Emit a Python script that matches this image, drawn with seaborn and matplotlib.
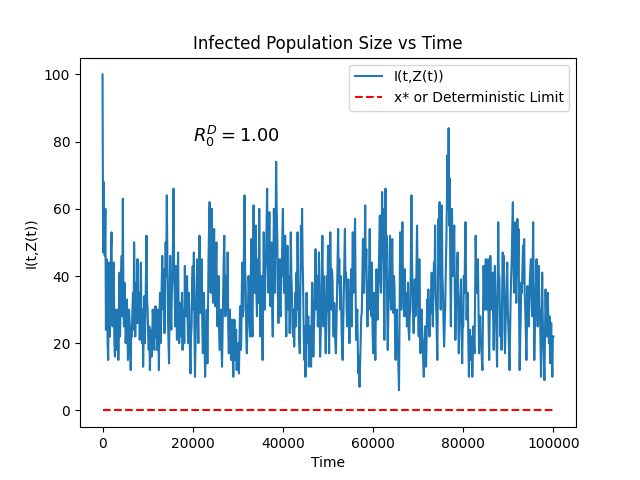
import numpy as np
import pandas as pd
import matplotlib
matplotlib.use("Agg")
import matplotlib.pyplot as plt
import seaborn as sns

# Infected population values, sampled every 125 time units (read / estimated from the chart)
infected_values = [
    100, 47, 68, 55, 46, 60, 24, 45, 38, 20, 15, 35, 44, 22, 30, 48, 53, 30, 25, 40,
    44, 20, 16, 28, 30, 18, 22, 30, 15, 25, 41, 22, 30, 40, 46, 28, 63, 35, 25, 38,
    30, 20, 24, 33, 28, 15, 18, 30, 27, 19, 12, 25, 22, 30, 35, 24, 50, 35, 22, 30,
    38, 26, 45, 30, 26, 35, 21, 32, 44, 28, 20, 30, 13, 22, 34, 20, 28, 40, 52, 33,
    30, 22, 18, 25, 12, 20, 24, 16, 20, 30, 27, 20, 18, 28, 31, 22, 25, 18, 30, 22,
    12, 28, 35, 20, 26, 38, 46, 33, 30, 42, 23, 38, 50, 40, 64, 45, 28, 20, 14, 35,
    46, 30, 24, 35, 40, 50, 66, 42, 35, 25, 43, 30, 21, 36, 47, 28, 20, 28, 32, 22,
    27, 35, 18, 25, 30, 20, 43, 32, 28, 38, 40, 26, 20, 35, 30, 18, 11, 22, 25, 38,
    43, 30, 47, 25, 10, 20, 30, 38, 45, 28, 20, 40, 52, 35, 29, 40, 45, 25, 17, 28,
    35, 20, 10, 18, 22, 30, 14, 28, 45, 55, 62, 40, 35, 48, 60, 38, 32, 45, 54, 35,
    31, 42, 50, 33, 25, 35, 40, 22, 18, 26, 30, 20, 13, 25, 35, 45, 52, 36, 28, 38,
    40, 30, 47, 25, 17, 24, 30, 20, 15, 22, 27, 16, 10, 20, 27, 15, 18, 24, 12, 20,
    20, 14, 11, 22, 31, 18, 20, 35, 44, 28, 30, 50, 64, 42, 37, 22, 17, 25, 30, 40,
    36, 25, 22, 40, 51, 30, 22, 45, 61, 40, 35, 50, 55, 35, 28, 40, 45, 32, 60, 38,
    22, 30, 40, 25, 15, 35, 53, 38, 30, 42, 45, 55, 66, 45, 35, 48, 59, 40, 31, 45,
    50, 30, 22, 40, 60, 45, 35, 55, 74, 60, 52, 35, 26, 38, 45, 30, 28, 45, 40, 52,
    60, 42, 35, 45, 52, 30, 22, 35, 49, 35, 30, 40, 23, 38, 53, 40, 35, 25, 22, 30,
    19, 28, 35, 25, 41, 30, 53, 38, 28, 20, 17, 35, 55, 42, 60, 45, 35, 22, 15, 25,
    10, 22, 35, 25, 20, 28, 13, 20, 25, 18, 13, 28, 38, 25, 16, 24, 30, 40, 48, 32,
    30, 40, 25, 35, 47, 30, 16, 22, 30, 42, 52, 35, 25, 40, 33, 25, 17, 28, 40, 30,
    49, 30, 17, 35, 53, 40, 30, 42, 39, 28, 22, 32, 27, 20, 17, 25, 35, 45, 54, 38,
    45, 35, 30, 40, 25, 18, 15, 25, 35, 45, 54, 38, 41, 30, 25, 35, 39, 28, 20, 30,
    34, 42, 25, 38, 53, 35, 40, 48, 57, 35, 21, 28, 30, 18, 11, 16, 7, 14, 20, 28,
    29, 40, 51, 38, 35, 45, 61, 42, 48, 35, 25, 38, 30, 42, 54, 38, 35, 28, 44, 25,
    17, 25, 35, 22, 15, 30, 42, 30, 27, 35, 41, 50, 58, 40, 35, 50, 65, 45, 60, 38,
    21, 45, 66, 45, 52, 30, 18, 28, 35, 45, 52, 38, 30, 42, 51, 35, 29, 40, 37, 22,
    15, 25, 30, 20, 19, 12, 6, 30, 53, 40, 30, 45, 56, 40, 35, 28, 42, 30, 28, 35,
    25, 32, 38, 24, 21, 28, 30, 45, 64, 45, 35, 28, 23, 30, 39, 28, 30, 42, 55, 38,
    31, 22, 45, 30, 17, 25, 30, 22, 20, 14, 10, 18, 25, 18, 13, 22, 33, 25, 36, 28,
    22, 30, 29, 35, 41, 30, 25, 35, 44, 38, 55, 35, 30, 22, 15, 35, 57, 45, 62, 40,
    30, 45, 61, 40, 35, 25, 19, 25, 31, 42, 50, 62, 76, 60, 84, 55, 69, 40, 25, 45,
    60, 45, 40, 50, 55, 35, 21, 30, 35, 42, 47, 30, 17, 25, 30, 35, 39, 25, 14, 25,
    25, 40, 35, 45, 56, 38, 27, 35, 35, 20, 10, 18, 24, 16, 15, 22, 10, 18, 25, 20,
    17, 35, 52, 40, 35, 42, 45, 30, 17, 24, 28, 20, 20, 15, 12, 30, 43, 35, 30, 40,
    45, 35, 30, 38, 45, 25, 15, 30, 46, 35, 30, 38, 41, 28, 18, 30, 43, 35, 30, 20,
    13, 35, 56, 40, 40, 30, 22, 28, 18, 35, 47, 35, 46, 25, 17, 25, 32, 38, 44, 30,
    25, 18, 12, 22, 33, 40, 45, 55, 62, 45, 35, 48, 56, 40, 32, 45, 57, 40, 54, 30,
    12, 20, 29, 38, 35, 42, 49, 38, 51, 35, 30, 22, 15, 25, 37, 28, 25, 32, 38, 42,
    45, 35, 28, 40, 56, 35, 15, 25, 30, 38, 45, 32, 25, 35, 43, 30, 30, 20, 10, 25,
    41, 28, 20, 15, 9, 22, 36, 28, 22, 30, 35, 25, 20, 28, 14, 20, 26, 18, 10, 22,
    22,
]
time_step = 125
time_values = [i * time_step for i in range(len(infected_values))]
deterministic_limit = [0.0 for _ in time_values]

df = pd.DataFrame({"Time": time_values, "I": infected_values, "x": deterministic_limit})

plt.style.use("default")
fig, ax = plt.subplots(figsize=(6.4, 4.8), dpi=100)

sns.lineplot(data=df, x="Time", y="I", ax=ax, color="#1f77b4", linewidth=1.5,
             estimator=None, label="I(t,Z(t))")
sns.lineplot(data=df, x="Time", y="x", ax=ax, color="red", linestyle="--",
             linewidth=1.5, estimator=None, label="x* or Deterministic Limit")

ax.text(20000, 80, r"$R_0^D = 1.00$", fontsize=13)
ax.set_title("Infected Population Size vs Time")
ax.set_xlabel("Time")
ax.set_ylabel("I(t,Z(t))")
ax.legend(loc="upper right")

fig.savefig("out.png", dpi=100)
